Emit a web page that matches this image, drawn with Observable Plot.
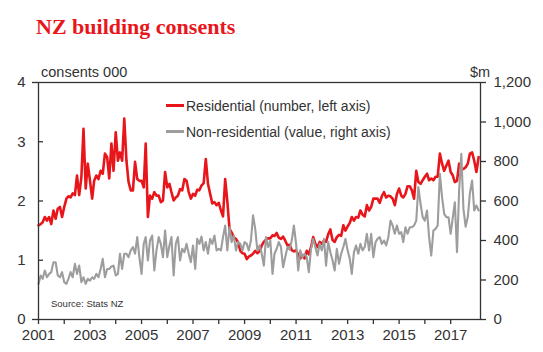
<!DOCTYPE html>
<html>
<head>
<meta charset="utf-8">
<script src="https://cdn.jsdelivr.net/npm/d3@7"></script>
<script src="https://cdn.jsdelivr.net/npm/@observablehq/plot@0.6"></script>
<style>
  body { margin: 0; background: #fff; }
  #wrap { position: relative; width: 543px; height: 352px; font-family: "Liberation Sans", Arial, sans-serif; color: #333; overflow: hidden; }
  .abs { position: absolute; white-space: nowrap; line-height: 1; }
  #title { left: 36px; top: 16px; font-family: "Liberation Serif", "Times New Roman", serif; font-weight: bold; font-size: 22px; color: #e8161b; }
  #chart { position: absolute; left: 0; top: 45px; }
  .swatch { position: absolute; height: 3px; width: 18px; }
</style>
</head>
<body>
<div id="wrap">
  <div id="title" class="abs">NZ building consents</div>
  <div id="chart"></div>
  <div class="abs" style="left:41px; top:65px; font-size:14.5px;">consents 000</div>
  <div class="abs" style="left:470px; top:65px; font-size:14.5px;">$m</div>
  <div class="swatch" style="left:166px; top:104px; background:#e8161b;"></div>
  <div class="abs" style="left:186px; top:99px; font-size:14px;">Residential (number, left axis)</div>
  <div class="swatch" style="left:166px; top:130px; background:#9d9d9d;"></div>
  <div class="abs" style="left:186px; top:125px; font-size:14px;">Non-residential (value, right axis)</div>
  <div class="abs" style="left:51px; top:299px; font-size:9.5px;">Source: Stats NZ</div>
</div>
<script>
// Monthly series starting January 2001
const startYear = 2001;
const residential = [
  1.59,1.61,1.64,1.73,1.67,1.73,1.61,1.84,1.70,1.87,1.90,1.73,
  1.90,2.04,2.08,2.06,2.13,2.10,2.43,2.10,2.40,3.22,2.21,2.63,
  2.34,2.04,2.34,2.43,2.37,2.51,2.46,2.80,2.74,2.38,2.97,2.51,
  3.16,2.68,2.82,2.68,3.39,2.68,2.32,2.18,2.18,2.66,2.37,2.34,
  2.34,2.23,2.97,1.73,2.09,2.04,2.15,2.09,2.09,1.98,2.01,2.49,
  2.23,2.29,2.15,2.01,2.06,2.09,2.20,2.18,2.37,2.34,2.15,2.04,
  2.12,2.09,2.19,2.18,2.26,2.30,2.71,2.29,2.12,1.96,1.98,1.93,
  1.97,1.84,1.74,2.37,2.00,1.53,1.47,1.39,1.36,1.30,1.16,1.12,
  1.11,1.02,1.06,1.08,1.11,1.16,1.12,1.15,1.25,1.31,1.35,1.37,
  1.37,1.42,1.41,1.46,1.38,1.36,1.40,1.33,1.25,1.26,1.17,1.15,
  1.17,1.09,1.03,1.08,1.03,1.16,1.10,1.22,1.39,1.28,1.22,1.31,
  1.28,1.33,1.31,1.44,1.52,1.34,1.31,1.39,1.43,1.41,1.59,1.50,
  1.57,1.63,1.73,1.67,1.73,1.72,1.84,1.77,1.74,1.93,1.84,1.90,
  2.04,2.04,2.04,1.97,2.08,2.15,2.06,2.09,2.08,2.04,1.93,2.12,
  2.21,2.09,2.06,2.12,2.25,2.25,2.18,2.04,2.51,2.32,2.29,2.35,
  2.41,2.46,2.35,2.38,2.35,2.41,2.41,2.80,2.63,2.51,2.60,2.68,
  2.49,2.43,2.32,2.34,2.63,2.53,2.54,2.57,2.63,2.80,2.82,2.68,
  2.49,2.74
];
const nonResidential = [
  180,223,206,248,214,231,240,290,290,223,214,240,
  189,180,206,240,214,282,231,273,189,214,180,206,
  197,214,206,231,214,256,307,214,256,256,268,273,
  223,231,333,256,333,333,316,350,367,333,417,316,
  231,383,417,299,400,425,248,350,417,383,316,451,
  316,375,417,223,383,417,299,358,341,383,333,290,
  375,256,408,383,420,350,392,333,408,383,425,350,
  358,350,417,476,350,467,392,425,350,392,383,350,
  392,383,350,400,527,459,350,375,333,273,417,367,
  400,231,333,358,392,367,265,316,367,354,400,476,
  383,248,350,316,333,316,240,358,408,367,324,383,
  350,408,273,392,341,300,248,358,282,333,367,408,
  350,307,231,341,375,333,383,350,367,434,350,434,
  316,392,408,417,383,400,375,417,501,476,434,476,
  434,442,392,467,434,467,467,476,501,670,586,518,
  501,552,417,324,450,459,476,738,620,535,518,518,
  434,518,594,341,653,839,560,470,520,640,704,552,
  577,552
];
const leftTicks = [0, 1, 2, 3, 4];
const rightTicks = [0, 200, 400, 600, 800, 1000, 1200];
const tickYears = d3.range(2001, 2018);
const labelYears = [2001, 2003, 2005, 2007, 2009, 2011, 2013, 2015, 2017];
const rightPerLeft = 300; // $m per left-axis unit (1,200 ↔ 4)

const monthDate = i => new Date(Date.UTC(startYear, i, 1));
const resData = residential.map((v, i) => ({date: monthDate(i), value: v}));
const nonData = nonResidential.map((v, i) => ({date: monthDate(i), value: v}));

const W = 543, H = 307, mL = 38, mR = 63, mT = 37, mB = 33;

const chart = Plot.plot({
  width: W, height: H,
  marginLeft: mL, marginRight: mR, marginTop: mT, marginBottom: mB,
  style: {fontFamily: "'Liberation Sans', Arial, sans-serif", fontSize: "15px", color: "#333", background: "transparent", overflow: "visible"},
  x: {type: "utc", domain: [new Date(Date.UTC(2001, 0, 1)), new Date(Date.UTC(2018, 1, 28))], label: null},
  y: {domain: [0, 4], label: null},
  marks: [
    Plot.axisY(leftTicks, {anchor: "left", label: null, tickSize: 0, tickPadding: 13, fontSize: 15, tickFormat: d => String(d)}),
    Plot.axisY([0, 4], {anchor: "left", label: null, tickSize: 6, tickFormat: () => "", stroke: "#333", strokeWidth: 1.3}),
    Plot.tickY([1, 2, 3], {y: d => d, insetRight: W - mL - mR - 5, stroke: "#333", strokeWidth: 1.3}),
    Plot.axisY(rightTicks.map(v => v / rightPerLeft), {
      anchor: "right", label: null, tickSize: 5, tickPadding: 8, fontSize: 15, stroke: "#333", strokeWidth: 1.3,
      tickFormat: d => d3.format(",")(Math.round(d * rightPerLeft))
    }),
    Plot.axisX(tickYears.map(y => new Date(Date.UTC(y, 0, 1))), {
      label: null, tickSize: 5, tickPadding: 5, fontSize: 15, stroke: "#333", strokeWidth: 1.3,
      tickFormat: d => labelYears.includes(d.getUTCFullYear()) ? String(d.getUTCFullYear()) : ""
    }),
    Plot.line(resData, {x: "date", y: "value", stroke: "#e8161b", strokeWidth: 2.6, strokeLinejoin: "round"}),
    Plot.line(nonData, {x: "date", y: d => d.value / rightPerLeft, stroke: "#9d9d9d", strokeWidth: 2.1, strokeLinejoin: "round"}),
    Plot.frame({stroke: "#333", strokeWidth: 1.3})
  ]
});
document.getElementById("chart").appendChild(chart);
</script>
</body>
</html>
